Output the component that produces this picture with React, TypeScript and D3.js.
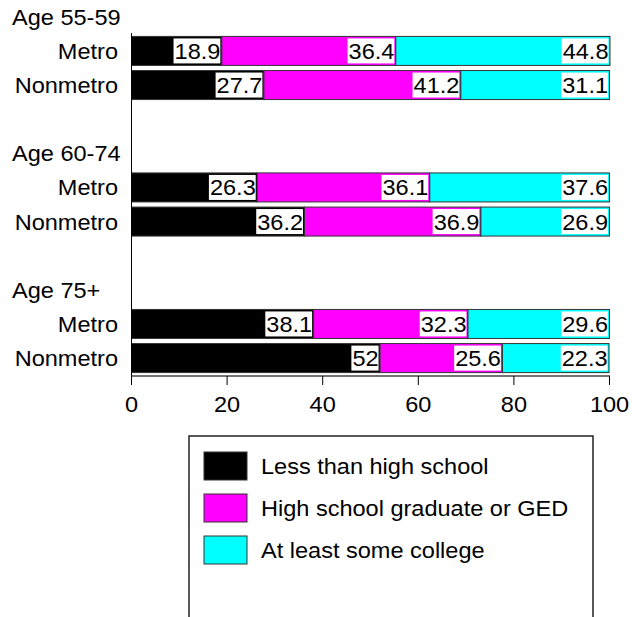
import React from "react";
import * as d3 from "d3";

const groups = ["Age 55-59", "Age 60-74", "Age 75+"];
const areas = ["Metro", "Nonmetro"];
const lessHS = [18.9, 27.7, 26.3, 36.2, 38.1, 52];
const hsGrad = [36.4, 41.2, 36.1, 36.9, 32.3, 25.6];
const college = [44.8, 31.1, 37.6, 26.9, 29.6, 22.3];
const seriesNames = ["Less than high school", "High school graduate or GED", "At least some college"];
const seriesColors = ["#000000", "#ff00ff", "#00ffff"];
const xTicks = [0, 20, 40, 60, 80, 100];

const W = 632;
const H = 617;
const FONT = "Liberation Sans, Arial, Helvetica, sans-serif";
const FS = 22;
const SX = 1.07;

function T({ x, y, anchor = "start", size = FS, children }: any) {
  return (
    <g transform={`translate(${x},${y}) scale(${SX},1)`}>
      <text x={0} y={0} textAnchor={anchor} fontFamily={FONT} fontSize={size} fill="#000">
        {children}
      </text>
    </g>
  );
}

function textWidth(s: string, size: number) {
  const widths: Record<string, number> = { ".": 0.278 };
  let w = 0;
  for (const c of s) w += widths[c] ?? 0.556;
  return w * size * SX;
}

export default function App() {
  const rows: string[] = [];
  const rowKey: string[] = [];
  groups.forEach((g, gi) => {
    if (gi > 0) {
      rows.push("gap" + gi);
      rows.push("label" + gi);
    }
    areas.forEach((a) => {
      rows.push(g + "|" + a);
      rowKey.push(g + "|" + a);
    });
  });

  const x = d3.scaleLinear().domain([0, 100]).range([131.5, 609.5]);
  const y = d3.scaleBand<string>().domain(rows).range([33, 376]).paddingInner(0.15).paddingOuter(0.1);
  const bw = y.bandwidth();
  const step = y.step();

  const data = rowKey.map((k, i) => ({ key: k, vals: [lessHS[i], hsGrad[i], college[i]] }));
  const stack = data.map((d) => {
    let acc = 0;
    return d.vals.map((v) => {
      const s = { x0: acc, x1: acc + v, v };
      acc += v;
      return s;
    });
  });

  const groupLabelY = (gi: number) => {
    const k = groups[gi] + "|" + areas[0];
    return (y(k) as number) - step + bw / 2;
  };

  return (
    <div style={{ position: "fixed", left: 0, top: 0 }}>
      <svg width={W} height={H} style={{ display: "block", background: "#fff" }}>
        {data.map((d, i) => {
          const yy = y(d.key) as number;
          return (
            <g key={d.key}>
              {stack[i].map((s, j) => (
                <rect
                  key={j}
                  x={x(s.x0)}
                  y={yy}
                  width={x(s.x1) - x(s.x0)}
                  height={bw}
                  fill={seriesColors[j]}
                  stroke="#333"
                  strokeWidth={1}
                />
              ))}
              {stack[i].map((s, j) => {
                const label = String(s.v);
                const tw = textWidth(label, FS);
                const right = x(s.x1) - 1.5;
                return (
                  <g key={"l" + j}>
                    <rect x={right - tw - 1} y={yy + bw / 2 - 12.5} width={tw + 1} height={25} fill="#fff" />
                    <T x={right} y={yy + bw / 2 + 8} anchor="end">
                      {label}
                    </T>
                  </g>
                );
              })}
            </g>
          );
        })}

        {rowKey.map((k) => (
          <T key={k} x={118} y={(y(k) as number) + bw / 2 + 8} anchor="end">
            {k.split("|")[1]}
          </T>
        ))}
        {groups.map((g, gi) => (
          <T key={g} x={12} y={groupLabelY(gi) + 8}>
            {g}
          </T>
        ))}

        <line x1={131.5} x2={131.5} y1={33} y2={385} stroke="#000" strokeWidth={1} />
        <line x1={131.5} x2={610} y1={376} y2={376} stroke="#444" strokeWidth={1.5} />
        {xTicks.map((t) => (
          <g key={t}>
            <line x1={x(t)} x2={x(t)} y1={376} y2={385} stroke="#000" strokeWidth={1} />
            <T x={x(t)} y={412} anchor="middle">
              {t}
            </T>
          </g>
        ))}

        <rect x={189} y={436} width={404} height={240} fill="none" stroke="#222" strokeWidth={1.5} />
        {seriesNames.map((n, i) => (
          <g key={n}>
            <rect x={204} y={452 + i * 42} width={43} height={28} fill={seriesColors[i]} stroke="#333" strokeWidth={1} />
            <T x={261} y={474 + i * 42}>
              {n}
            </T>
          </g>
        ))}
      </svg>
    </div>
  );
}
